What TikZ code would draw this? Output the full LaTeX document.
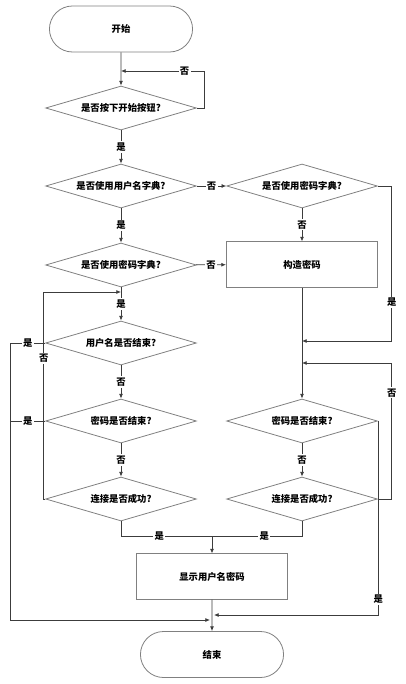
\documentclass[tikz,border=0pt]{standalone}
\usepackage{fontspec}
\newfontfamily\cjk{Noto Sans CJK SC}
\usetikzlibrary{shapes.geometric,shapes.misc,arrows.meta}
\definecolor{shapegray}{RGB}{128,128,128}
\definecolor{linegray}{RGB}{60,60,60}
\begin{document}
\begin{tikzpicture}[x=0.75pt,y=-0.75pt,
		every node/.style={font=\cjk\bfseries\fontsize{7}{8}\selectfont},
		term/.style={rounded rectangle, draw=shapegray, line width=0.6pt, minimum width=114pt, minimum height=34.5pt},
		decide/.style={diamond, aspect=3.4, inner sep=1pt, draw=shapegray, line width=0.6pt, minimum width=113pt, minimum height=33pt},
		proc/.style={rectangle, draw=shapegray, line width=0.6pt, minimum width=113.5pt, minimum height=34pt},
		line/.style={draw=linegray, line width=0.6pt},
		arr/.style={line, -{Latex[length=3.5pt,width=3pt]}},
		lbl/.style={fill=white, inner sep=1pt}]
			\useasboundingbox (0,0) rectangle (406,684);
			\node[term] (start) at (121,29) {开始};
			\node[decide] (press) at (121,108) {是否按下开始按钮?};
			\node[decide] (userdict) at (121,186) {是否使用用户名字典?};
			\node[decide] (pwdict) at (302,186) {是否使用密码字典?};
			\node[decide] (pwdictb) at (121,265) {是否使用密码字典?};
			\node[proc] (build) at (302,264.5) {构造密码};
			\node[decide] (userend) at (121,343) {用户名是否结束?};
			\node[decide] (pwend) at (121,421) {密码是否结束?};
			\node[decide] (connect) at (121,499) {连接是否成功?};
			\node[decide] (pwendb) at (302,421) {密码是否结束?};
			\node[decide] (connectb) at (302,499) {连接是否成功?};
			\node[proc] (show) at (212,576.5) {显示用户名密码};
			\node[term] (stop) at (212,654.5) {结束};
			\coordinate (backA) at (121,71);
			\coordinate (backB) at (302,341);
			\coordinate (backC) at (121,292);
			\coordinate (backD) at (302,363);
			\coordinate (endL) at (210,620);
			\coordinate (endR) at (214,615);
			\coordinate (join) at (212,536);
			\draw[arr] (start) -- (press);
			\draw[arr] (press.east) -- ++(8,0) |- node[lbl,pos=0.62] {否} (backA);
			\draw[arr] (press) -- node[lbl] {是} (userdict);
			\draw[arr] (userdict) -- node[lbl] {否} (pwdict);
			\draw[arr] (pwdict.east) -- ++(14,0) |- node[lbl,pos=0.375] {是} (backB);
			\draw[arr] (pwdict) -- node[lbl] {否} (build);
			\draw[arr] (userdict) -- node[lbl] {是} (pwdictb);
			\draw[arr] (pwdictb) -- node[lbl] {否} (build);
			\draw[arr] (pwdictb) -- node[lbl] {是} (userend);
			\draw[arr] (connect.west) -- ++(-1.5,0) |- node[lbl,pos=0.34] {否} (backC);
			\draw[arr] (userend.west) -- node[lbl] {是} ++(-35,0) |- (endL);
			\draw[line] (pwend.west) -- node[lbl] {是} ++(-35,0);
			\draw[arr] (userend) -- node[lbl] {否} (pwend);
			\draw[arr] (pwend) -- node[lbl] {否} (connect);
			\draw[arr] (build) -- (pwendb);
			\draw[arr] (connectb.east) -- ++(14,0) |- node[lbl,pos=0.39] {否} (backD);
			\draw[arr] (pwendb.east) -- ++(0.5,0) |- node[lbl,pos=0.46] {是} (endR);
			\draw[arr] (pwendb) -- node[lbl] {否} (connectb);
			\draw[line] (connect.south) |- node[lbl,pos=0.71] {是} (join);
			\draw[line] (connectb.south) |- node[lbl,pos=0.71] {是} (join);
			\draw[arr] (join) -- (show);
			\draw[arr] (show) -- (stop);
		\end{tikzpicture}
\end{document}
